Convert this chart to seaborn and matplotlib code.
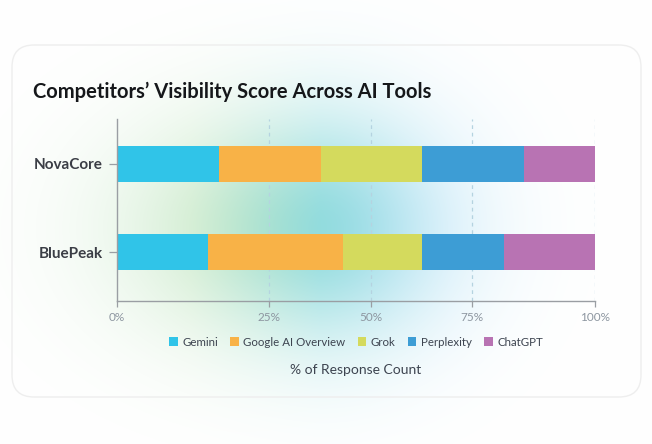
import numpy as np
import pandas as pd
import matplotlib
matplotlib.use("Agg")
import matplotlib.pyplot as plt
from matplotlib.patches import FancyBboxPatch, Patch
import seaborn as sns

# data (% of response count)
companies = ["NovaCore", "BluePeak"]
tools = ["Gemini", "Google AI Overview", "Grok", "Perplexity", "ChatGPT"]
gemini = [21.3, 19.0]
google_ai = [21.3, 28.2]
grok = [21.2, 16.5]
perplexity = [21.2, 17.3]
chatgpt = [15.0, 19.0]
tool_colors = ["#30c4e8", "#f8b247", "#d4da5d", "#3d9dd5", "#b873b3"]
# gridlines in the original sit at uneven spots along the axis
x_ticks = [0, 31.8, 53.1, 74.3, 100]
x_tick_labels = ["0%", "25%", "50%", "75%", "100%"]

sns.set_theme(style="white")
plt.rcParams["font.family"] = ["Lato", "DejaVu Sans"]

W, H = 652, 444
fig = plt.figure(figsize=(W / 100, H / 100), dpi=100)
fig.patch.set_facecolor("white")

# soft coloured glow behind the chart
bg = fig.add_axes([0, 0, 1, 1])
yy, xx = np.mgrid[0:H, 0:W].astype(float)
cx, cy = 320, 228
rx = np.where(xx < cx, 175, 130)
ry = 115
glow = np.exp(-((xx - cx) / rx) ** 2 - ((yy - cy) / ry) ** 2) * 0.85
t = np.clip((xx - 190) / 260, 0, 1)[..., None]
green = np.array([172, 222, 172]) / 255
teal = np.array([128, 214, 216]) / 255
blue = np.array([145, 212, 240]) / 255
col = np.where(t < 0.5, green + (teal - green) * (t / 0.5), teal + (blue - teal) * ((t - 0.5) / 0.5))
img = 1 - glow[..., None] * (1 - col)
bg.imshow(img, extent=[0, W, H, 0], aspect="auto", interpolation="bilinear")
bg.set_xlim(0, W)
bg.set_ylim(H, 0)
bg.axis("off")
card = FancyBboxPatch((12, 45), 629, 352, boxstyle="round,pad=0,rounding_size=22",
                      fill=False, edgecolor="#eeeeee", linewidth=1.0)
bg.add_patch(card)

# stacked bars: draw cumulative totals from the back to the front
ax = fig.add_axes([116.7 / W, 1 - 300.7 / H, 478.6 / W, 181.7 / H])
ax.patch.set_alpha(0)
series = [gemini, google_ai, grok, perplexity, chatgpt]
cum = np.cumsum(np.array(series), axis=0)
for i in range(len(tools) - 1, -1, -1):
    df = pd.DataFrame({"company": companies, "value": cum[i]})
    sns.barplot(data=df, x="value", y="company", color=tool_colors[i], saturation=1,
                width=0.41, errorbar=None, linewidth=0, ax=ax, orient="h")

ax.set_xlim(0, 100)
ax.set_ylim(1.55, -0.506)
ax.set_xticks(x_ticks)
ax.set_xticklabels(x_tick_labels)
ax.set_xlabel("")
ax.set_ylabel("")
for xv in x_ticks[1:]:
    ax.axvline(xv, color="#b5d3e0", linewidth=0.9, linestyle=(0, (3, 3)), zorder=0)
sns.despine(ax=ax, top=True, right=True)
for s in ["left", "bottom"]:
    ax.spines[s].set_color("#9a9ea3")
    ax.spines[s].set_linewidth(1.0)
ax.tick_params(axis="x", length=4, width=0.9, color="#9a9ea3", labelsize=8.5,
               labelcolor="#8d96a0", pad=4, bottom=True)
ax.tick_params(axis="y", length=6, width=0.9, color="#9a9ea3", labelsize=11,
               labelcolor="#3b3e46", pad=4, left=True)
for lbl in ax.get_yticklabels():
    lbl.set_fontweight("bold")

fig.text(33 / W, 1 - 92 / H, "Competitors\u2019 Visibility Score Across AI Tools",
         fontsize=14.5, fontweight="bold", color="#15171a", va="center", ha="left")

handles = [Patch(facecolor=c, edgecolor="none") for c in tool_colors]
fig.legend(handles, tools, loc="center", bbox_to_anchor=(356 / W, 1 - 342 / H),
           ncol=5, frameon=False, fontsize=8.3, labelcolor="#3d4450",
           handlelength=0.75, handleheight=0.75, handletextpad=0.4, columnspacing=1.05)

fig.text(356 / W, 1 - 370 / H, "% of Response Count", fontsize=10, color="#3d4450",
         ha="center", va="center")

fig.savefig("out.png", dpi=100)
